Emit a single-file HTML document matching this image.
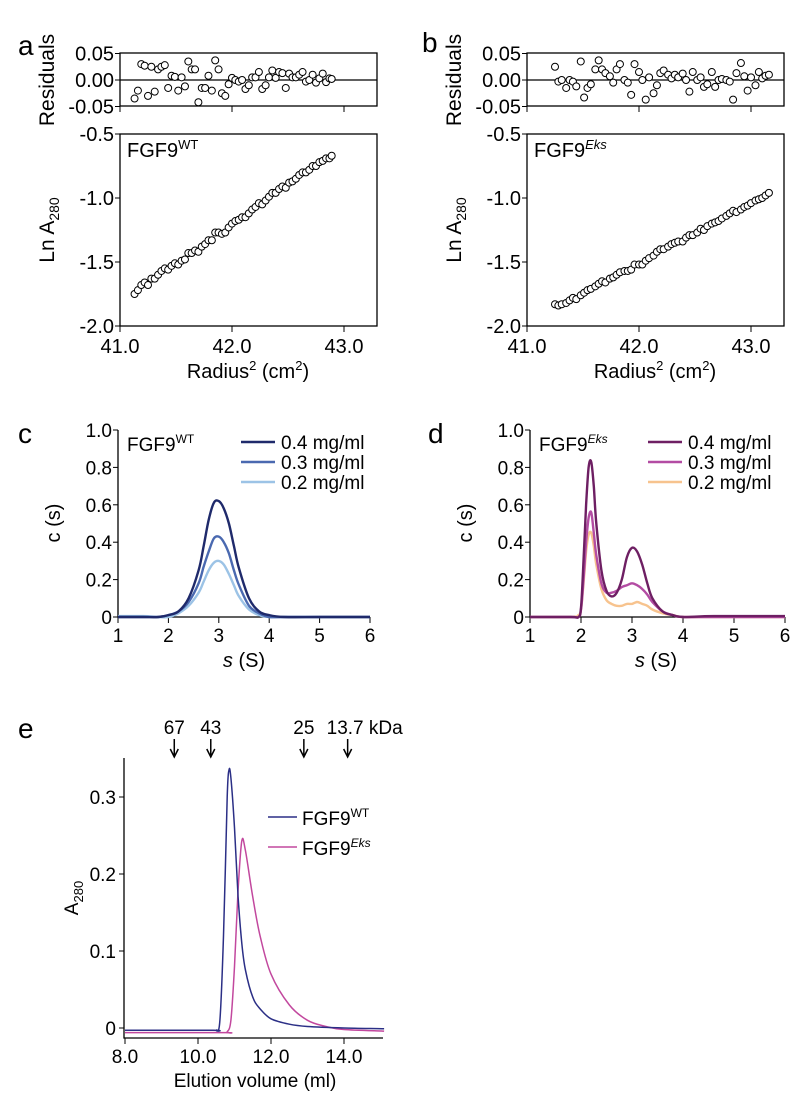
<!DOCTYPE html>
<html><head><meta charset="utf-8"><style>
body{margin:0;background:#fff}
svg{display:block;font-family:"Liberation Sans",sans-serif}
</style></head><body>
<svg id="fig" width="807" height="1097" viewBox="0 0 807 1097" xmlns="http://www.w3.org/2000/svg">
<g font-size="28" fill="#000">
<text x="18" y="55">a</text>
<text x="422" y="52">b</text>
<text x="18" y="443">c</text>
<text x="428" y="443">d</text>
<text x="18" y="738">e</text>
</g>
<g id="layer"></g>
</svg>
<script>
// ---- data ----
const aX=[41.13,41.16,41.19,41.22,41.25,41.28,41.31,41.34,41.37,41.40,41.43,41.46,41.49,41.52,41.55,41.58,41.61,41.64,41.67,41.70,41.73,41.76,41.79,41.82,41.85,41.88,41.91,41.94,41.97,42.00,42.03,42.06,42.09,42.12,42.15,42.18,42.21,42.24,42.27,42.30,42.33,42.36,42.39,42.42,42.45,42.48,42.51,42.54,42.57,42.60,42.63,42.66,42.69,42.72,42.75,42.78,42.81,42.84,42.87,42.89];
const aY=[-1.75,-1.72,-1.68,-1.66,-1.68,-1.63,-1.63,-1.60,-1.57,-1.55,-1.56,-1.53,-1.51,-1.52,-1.49,-1.48,-1.43,-1.43,-1.41,-1.42,-1.38,-1.36,-1.33,-1.33,-1.27,-1.27,-1.28,-1.27,-1.23,-1.20,-1.18,-1.17,-1.15,-1.15,-1.12,-1.09,-1.07,-1.04,-1.05,-1.02,-0.99,-0.96,-0.96,-0.93,-0.91,-0.92,-0.88,-0.87,-0.85,-0.82,-0.80,-0.80,-0.78,-0.75,-0.75,-0.72,-0.71,-0.69,-0.69,-0.67];
const aRes=[-0.035,-0.02,0.03,0.027,-0.03,0.025,-0.022,0.02,0.025,0.028,-0.015,0.008,0.006,-0.02,0.005,-0.012,0.035,0.02,0.02,-0.042,-0.015,-0.015,0.008,-0.02,0.037,0.02,-0.025,-0.03,-0.008,0.004,0.0,-0.003,0.0,-0.017,-0.01,0.005,0.005,0.015,-0.017,-0.01,0.005,0.018,0.004,0.015,0.013,-0.015,0.012,0.005,0.005,0.01,0.015,-0.003,0.0,0.01,-0.005,0.003,0.012,-0.004,0.003,0.002];
const bX=[41.25,41.28,41.31,41.35,41.38,41.41,41.44,41.48,41.51,41.54,41.57,41.61,41.64,41.67,41.70,41.74,41.77,41.80,41.83,41.87,41.90,41.93,41.96,42.00,42.03,42.06,42.09,42.13,42.16,42.19,42.22,42.26,42.29,42.32,42.35,42.39,42.42,42.45,42.48,42.52,42.55,42.58,42.61,42.65,42.68,42.71,42.74,42.78,42.81,42.84,42.87,42.91,42.94,42.97,43.00,43.04,43.07,43.10,43.13,43.16];
const bY=[-1.83,-1.84,-1.83,-1.82,-1.80,-1.78,-1.79,-1.76,-1.74,-1.72,-1.71,-1.69,-1.67,-1.65,-1.66,-1.63,-1.62,-1.60,-1.58,-1.57,-1.57,-1.56,-1.52,-1.52,-1.52,-1.49,-1.47,-1.45,-1.42,-1.40,-1.40,-1.38,-1.36,-1.35,-1.34,-1.34,-1.31,-1.29,-1.29,-1.27,-1.24,-1.25,-1.22,-1.20,-1.19,-1.18,-1.16,-1.14,-1.12,-1.10,-1.11,-1.09,-1.07,-1.06,-1.04,-1.02,-1.01,-1.00,-0.98,-0.96];
const bRes=[0.025,-0.003,0.0,-0.015,0.0,-0.003,-0.012,0.035,-0.033,-0.015,-0.008,0.02,0.037,0.02,0.013,0.007,-0.005,0.02,0.03,0.0,-0.005,-0.028,0.03,0.015,0.0,-0.037,0.005,-0.025,-0.01,0.013,0.018,0.01,0.003,0.01,0.005,0.012,0.0,-0.022,0.015,0.0,0.005,-0.013,-0.008,0.015,-0.013,0.0,0.002,0.0,-0.003,-0.037,0.013,0.032,0.007,-0.02,0.005,-0.01,0.015,0.003,0.008,0.01];
const resTicks=["0.05","0.00","-0.05"];
const lnTicks=["-0.5","-1.0","-1.5","-2.0"];
const radTicks=["41.0","42.0","43.0"];
const cS=[1,1.5,1.8,2.0,2.2,2.4,2.6,2.7,2.8,2.9,3.0,3.1,3.2,3.3,3.4,3.6,3.8,4.0,4.3,5,6];
const cW04=[0,0,0,0.01,0.03,0.10,0.25,0.38,0.52,0.61,0.62,0.58,0.50,0.38,0.26,0.10,0.03,0.01,0,0,0];
const cW03=[0,0,0,0.01,0.03,0.08,0.18,0.27,0.35,0.42,0.43,0.40,0.34,0.25,0.17,0.06,0.02,0,0,0,0];
const cW02=[0.005,0.005,0,0,0.02,0.06,0.13,0.19,0.25,0.29,0.30,0.28,0.23,0.17,0.11,0.04,0.01,0,0,0,0];
const dS=[1,1.8,1.95,2.0,2.05,2.1,2.15,2.2,2.25,2.3,2.4,2.5,2.6,2.7,2.8,2.9,3.0,3.1,3.2,3.3,3.4,3.6,3.8,4.0,4.6,5.8,6];
const dE04=[0,0,0,0.05,0.3,0.6,0.8,0.83,0.7,0.5,0.25,0.14,0.11,0.13,0.2,0.32,0.37,0.35,0.28,0.18,0.1,0.03,0.01,0,0.005,0.005,0.005];
const dE03=[0,0,0,0.04,0.2,0.4,0.53,0.56,0.45,0.33,0.18,0.13,0.13,0.14,0.16,0.17,0.18,0.17,0.15,0.12,0.08,0.03,0.01,0,0,0,0];
const dE02=[0,0,0.01,0.04,0.18,0.35,0.44,0.45,0.38,0.28,0.15,0.09,0.07,0.06,0.06,0.07,0.07,0.08,0.07,0.06,0.04,0.02,0.01,0,0,0,0];
const csTicks=["0","0.2","0.4","0.6","0.8","1.0"];
const sTicks=["1","2","3","4","5","6"];
const eWTx=[8,10.4,10.5,10.6,10.7,10.8,10.85,10.9,11.0,11.1,11.2,11.3,11.5,11.7,12.0,12.5,13.0,14,15.1];
const eWTy=[-0.003,-0.003,-0.003,0.01,0.12,0.30,0.335,0.325,0.26,0.17,0.11,0.075,0.04,0.025,0.012,0.005,0.002,0,-0.001];
const eEksx=[8,10.7,10.8,10.9,11.0,11.1,11.2,11.3,11.5,11.7,12.0,12.5,13.0,13.5,14,15.1];
const eEksy=[-0.006,-0.006,-0.005,0.01,0.08,0.18,0.243,0.23,0.17,0.12,0.07,0.03,0.01,0.002,-0.002,-0.004];
const eYTicks=["0","0.1","0.2","0.3"];
const eXTicks=["8.0","10.0","12.0","14.0"];
const markerVol=[9.35,10.35,12.9,14.1];
const markerLbl=["67","43","25","13.7 kDa"];

const NS="http://www.w3.org/2000/svg";
const L=document.getElementById('layer');
function mk(tag,at,parent){const e=document.createElementNS(NS,tag);for(const k in at)e.setAttribute(k,at[k]);(parent||L).appendChild(e);return e;}
function txt(s,x,y,anchor,size){const t=mk('text',{x:x,y:y,'text-anchor':anchor||'start','font-size':size||19});t.textContent=s;return t;}
function smooth(pts){let d='M'+pts[0][0].toFixed(1)+','+pts[0][1].toFixed(1);for(let i=0;i<pts.length-1;i++){const p0=pts[i-1]||pts[i],p1=pts[i],p2=pts[i+1],p3=pts[i+2]||p2;const c1=[p1[0]+(p2[0]-p0[0])/6,p1[1]+(p2[1]-p0[1])/6],c2=[p2[0]-(p3[0]-p1[0])/6,p2[1]-(p3[1]-p1[1])/6];d+='C'+c1[0].toFixed(1)+','+c1[1].toFixed(1)+' '+c2[0].toFixed(1)+','+c2[1].toFixed(1)+' '+p2[0].toFixed(1)+','+p2[1].toFixed(1);}return d;}

// ---- panels a/b ----
function sedPanel(px,X,Y,R,name,sup,italic){
  const x0=px,x41=px,ppu=112,right=px+257;
  const sx=v=>x41+(v-41)*ppu;
  const ry=v=>80-v*530;
  const ly=v=>134-(v+0.5)*128;
  let e;
  e=mk('rect',{x:x0,y:53,width:257,height:53,fill:'none',stroke:'#000','stroke-width':1.3});
  
  
  e=mk('line',{x1:x0,x2:right,y1:ry(0),y2:ry(0),stroke:'#000','stroke-width':1.2});
  
  
  [0.05,0,-0.05].forEach((v,i)=>{mk('line',{x1:x0-5,x2:x0,y1:ry(v),y2:ry(v),stroke:'#000'});
    e=txt(resTicks[i],x0-6,ry(v)+7,'end',20);
    
    });
  [41,42,43].forEach(v=>{mk('line',{x1:sx(v),x2:sx(v),y1:106,y2:112,stroke:'#000'});});
  e=mk('text',{transform:'translate('+(x0-66)+',80) rotate(-90)','text-anchor':'middle','font-size':21});e.textContent='Residuals';
  
  
  for(let i=0;i<Math.min(X.length,R.length);i++){e=mk('circle',{cx:sx(X[i]),cy:ry(R[i]),r:3.5,fill:'#fff',stroke:'#000','stroke-width':1});
    
    }
  e=mk('rect',{x:x0,y:134,width:257,height:192,fill:'none',stroke:'#000','stroke-width':1.3});
  
  
  [-0.5,-1,-1.5,-2].forEach((v,i)=>{mk('line',{x1:x0-5,x2:x0,y1:ly(v),y2:ly(v),stroke:'#000'});
    e=txt(lnTicks[i],x0-6,ly(v)+7,'end',20);
    
    });
  [41,42,43].forEach((v,i)=>{mk('line',{x1:sx(v),x2:sx(v),y1:326,y2:332,stroke:'#000'});
    e=txt(radTicks[i],sx(v),353,'middle',20);
    
    });
  e=mk('text',{transform:'translate('+(x0-66)+',230) rotate(-90)','text-anchor':'middle','font-size':21});
  e.innerHTML='Ln A<tspan font-size="14" dy="5">280</tspan>';
  
  
  e=mk('text',{x:x0+128,y:378,'text-anchor':'middle','font-size':20});
  e.innerHTML='Radius<tspan font-size="13" dy="-8">2</tspan><tspan dy="8"> (cm</tspan><tspan font-size="13" dy="-8">2</tspan><tspan dy="8">)</tspan>';
  
  
  e=mk('text',{x:x0+7,y:157,'font-size':20});
  e.innerHTML='FGF9<tspan font-size="13" dy="-8" '+(italic?'font-style="italic"':'')+'>'+sup+'</tspan>';
  
  
  for(let i=0;i<X.length;i++){e=mk('circle',{cx:sx(X[i]),cy:ly(Y[i]),r:3.5,fill:'#fff',stroke:'#000','stroke-width':1});
    
    }
}
sedPanel(120,aX,aY,aRes,'panel-a','WT',false);
sedPanel(527,bX,bY,bRes,'panel-b','Eks',true);

// ---- panels c/d ----
function csPanel(x1,S,series,cols,labels,name,sup,italic,legX){
  const ppu=(x1===118?252:255)/5;
  const sx=v=>x1+(v-1)*ppu, sy=v=>617-v*187;
  let e;
  e=mk('path',{d:'M'+x1+',430V617H'+sx(6),fill:'none',stroke:'#000','stroke-width':1.3});
  
  
  [0,0.2,0.4,0.6,0.8,1].forEach((v,i)=>{mk('line',{x1:x1-5,x2:x1,y1:sy(v),y2:sy(v),stroke:'#000'});
    e=txt(csTicks[i],x1-6,sy(v)+7,'end',19);
    
    });
  [1,2,3,4,5,6].forEach((v,i)=>{mk('line',{x1:sx(v),x2:sx(v),y1:617,y2:623,stroke:'#000'});
    e=txt(sTicks[i],sx(v),642,'middle',19);
    
    });
  e=mk('text',{transform:'translate('+(x1-58)+',523) rotate(-90)','text-anchor':'middle','font-size':20});e.textContent='c (s)';
  
  
  e=mk('text',{x:x1+126,y:667,'text-anchor':'middle','font-size':20});e.innerHTML='<tspan font-style="italic">s</tspan> (S)';
  
  
  e=mk('text',{x:x1+9,y:451,'font-size':19});e.innerHTML='FGF9<tspan font-size="12" dy="-8" '+(italic?'font-style="italic"':'')+'>'+sup+'</tspan>';
  
  
  for(let k=series.length-1;k>=0;k--){const pts=S.map((s,i)=>[sx(s),sy(series[k][i])]);
    e=mk('path',{d:smooth(pts),fill:'none',stroke:cols[k],'stroke-width':2.4,'stroke-linejoin':'round'});
    
    }
  labels.forEach((lb,k)=>{const y=442+k*20;
    e=mk('line',{x1:legX,x2:legX+34,y1:y,y2:y,stroke:cols[k],'stroke-width':2.4});
    
    
    e=txt(lb,legX+40,y+7,'start',19);
    
    });
}
const cLabels=["0.4 mg/ml","0.3 mg/ml","0.2 mg/ml"];
csPanel(118,cS,[cW04,cW03,cW02],['#1f2a6b','#4a69b0','#9cc3e6'],cLabels,'panel-c','WT',false,241);
csPanel(530,dS,[dE04,dE03,dE02],['#6e1f63','#b34ca3','#f7c38e'],cLabels,'panel-d','Eks',true,648);

// ---- panel e ----
(function(){
  const ex=v=>125+(v-8)*36.5, ey=v=>1028-v*770;
  let e;
  e=mk('path',{d:'M124,758V1038H383',fill:'none',stroke:'#000','stroke-width':1.3});
  
  
  [0,0.1,0.2,0.3].forEach((v,i)=>{mk('line',{x1:119,x2:124,y1:ey(v),y2:ey(v),stroke:'#000'});
    e=txt(eYTicks[i],116,ey(v)+7,'end',19);
    
    });
  [8,10,12,14].forEach((v,i)=>{mk('line',{x1:ex(v),x2:ex(v),y1:1038,y2:1044,stroke:'#000'});
    e=txt(eXTicks[i],ex(v),1063,'middle',19);
    
    });
  e=mk('text',{x:255,y:1087,'text-anchor':'middle','font-size':19});e.textContent='Elution volume (ml)';
  
  
  e=mk('text',{transform:'translate(78,898) rotate(-90)','text-anchor':'middle','font-size':19});
  e.innerHTML='A<tspan font-size="13" dy="5">280</tspan>';
  
  
  markerVol.forEach((v,i)=>{const x=ex(v);
    e=mk('path',{d:'M'+x+',739V755M'+(x-4)+',749L'+x+',757L'+(x+4)+',749',fill:'none',stroke:'#000','stroke-width':1.5});
    
    
    e=txt(markerLbl[i],i==3?x-21:x,734,i==3?'start':'middle',19);
    
    });
  e=mk('path',{d:smooth(eEksx.map((v,i)=>[ex(v),ey(eEksy[i])])),fill:'none',stroke:'#c2489e','stroke-width':1.5});
  
  
  e=mk('path',{d:smooth(eWTx.map((v,i)=>[ex(v),ey(eWTy[i])])),fill:'none',stroke:'#2b2f86','stroke-width':1.5});
  
  
  [['#2b2f86','WT',false,817],['#c2489e','Eks',true,847]].forEach(r=>{
    e=mk('line',{x1:268,x2:297,y1:r[3],y2:r[3],stroke:r[0],'stroke-width':1.6});
    
    
    e=mk('text',{x:302,y:r[3]+8,'font-size':19});
    e.innerHTML='FGF9<tspan font-size="12" dy="-8" '+(r[2]?'font-style="italic"':'')+'>'+r[1]+'</tspan>';
    
    });
})();
</script>
</body></html>
